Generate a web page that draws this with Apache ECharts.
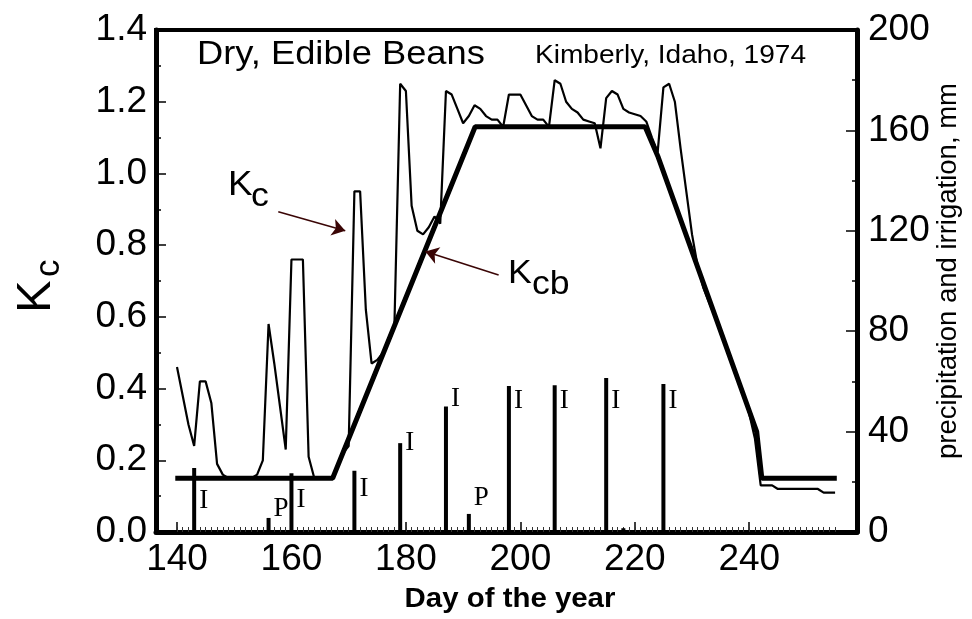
<!DOCTYPE html>
<html>
<head>
<meta charset="utf-8">
<script src="https://cdn.jsdelivr.net/npm/echarts@6/dist/echarts.min.js"></script>
<style>
  html, body { margin: 0; padding: 0; background: #fff; }
  #chart { width: 972px; height: 619px; }
</style>
</head>
<body>
<div id="chart"></div>
<script>
// Daily crop coefficient Kc, starting at day 140
const kcFirstDay = 140;
const kcDaily = [
  0.46, 0.38, 0.30, 0.24, 0.42, 0.42, 0.36, 0.19, 0.16, 0.15,   // 140-149
  0.15, 0.15, 0.15, 0.15, 0.16, 0.20, 0.58, 0.47, 0.35, 0.23,   // 150-159
  0.76, 0.76, 0.76, 0.21, 0.15, 0.15, 0.15, 0.15, 0.18, 0.22,   // 160-169
  0.24, 0.95, 0.95, 0.62, 0.47, 0.48, 0.50, 0.54, 0.58, 1.25,   // 170-179
  1.23, 0.91, 0.84, 0.83, 0.85, 0.88, 0.86, 1.23, 1.22, 1.18,   // 180-189
  1.14, 1.16, 1.19, 1.18, 1.16, 1.15, 1.15, 1.13, 1.22, 1.22,   // 190-199
  1.22, 1.19, 1.16, 1.15, 1.15, 1.13, 1.26, 1.25, 1.20, 1.18,   // 200-209
  1.17, 1.15, 1.145, 1.14, 1.07, 1.21, 1.23, 1.22, 1.18, 1.17,  // 210-219
  1.165, 1.16, 1.145, 1.10, 1.06, 1.24, 1.25, 1.20, 1.07, 0.95, // 220-229
  0.83, 0.74, 0.68, 0.64, 0.60, 0.555, 0.51, 0.47, 0.425, 0.38, // 230-239
  0.33, 0.26, 0.13, 0.13, 0.13, 0.12, 0.12, 0.12, 0.12, 0.12,   // 240-249
  0.12, 0.12, 0.12, 0.11, 0.11, 0.11                            // 250-255
];

// Basal crop coefficient Kcb (piecewise linear)
const kcbDays   = [139.7, 167.2, 192.1, 221.8, 224.1, 241.3, 242.2, 255.3];
const kcbValues = [0.15,  0.15,  1.13,  1.13,  1.045, 0.28,  0.15,  0.15];

// Precipitation (P) and irrigation (I) events, mm
const waterDays = [143, 156, 160, 171, 179, 187, 191, 198, 206, 215, 225, 218];
const waterMm   = [25.5, 5.6, 23.4, 24.4, 35.4, 50, 7.2, 58.2, 58.5, 61.4, 59, 1.5];
const waterTags = ['I', 'P', 'I', 'I', 'I', 'I', 'P', 'I', 'I', 'I', 'I', ''];

// Axis labels
const dayLabels = [140, 160, 180, 200, 220, 240];

const SANS = '"Liberation Sans", Arial, Helvetica, sans-serif';
const SERIF = '"Liberation Serif", "Times New Roman", serif';
const X_MIN = 136.33, X_MAX = 258.83;

const minorDays = [];
for (let d = 140; d <= 255; d++) minorDays.push(d);

// label placement for the I / P tags, relative to each bar's top-left
const tagOffsets = [[7, 33], [7, -9], [7, 27], [7, 18], [7, 0], [7, -8], [7, -16], [7, 15], [7, 16], [7, 23], [7, 17], [7, 0]];

const kcData = kcDaily.map((v, i) => [kcFirstDay + i, v]);
const kcbData = kcbDays.map((d, i) => [d, kcbValues[i]]);
const waterData = waterDays.map((d, i) => ({
  value: [d, waterMm[i]],
  label: { show: waterTags[i] !== '', formatter: waterTags[i], position: tagOffsets[i] }
}));

const chart = echarts.init(document.getElementById('chart'), null, { renderer: 'canvas' });

const arrowColor = '#3a0505';

chart.setOption({
  animation: false,
  backgroundColor: '#fff',
  grid: {
    left: 156, right: 115, top: 30, bottom: 87,
    show: true, borderColor: '#000', borderWidth: 4, backgroundColor: 'transparent'
  },
  xAxis: [
    {
      type: 'value', min: X_MIN, max: X_MAX, position: 'bottom',
      axisLine: { show: true, lineStyle: { color: '#000', width: 5 } },
      axisTick: { show: true, inside: true, length: 10, customValues: dayLabels, lineStyle: { color: '#000', width: 1.5 } },
      axisLabel: { customValues: dayLabels, fontSize: 37, fontFamily: SANS, color: '#000', margin: 9 },
      splitLine: { show: false }
    },
    {
      type: 'value', min: X_MIN, max: X_MAX, position: 'bottom',
      axisLine: { show: false },
      axisTick: { show: true, inside: true, length: 5, customValues: minorDays, lineStyle: { color: '#333', width: 1 } },
      axisLabel: { show: false },
      splitLine: { show: false }
    }
  ],
  yAxis: [
    {
      type: 'value', min: 0, max: 1.4, interval: 0.2, position: 'left',
      axisLine: { show: true, lineStyle: { color: '#000', width: 5 } },
      axisTick: { show: true, inside: true, length: 10, lineStyle: { color: '#000', width: 1.5 } },
      minorTick: { show: true, splitNumber: 2, length: 5, lineStyle: { color: '#000', width: 1.5 } },
      axisLabel: { formatter: v => v.toFixed(1), fontSize: 37, fontFamily: SANS, color: '#000', margin: 9 },
      splitLine: { show: false }, minorSplitLine: { show: false }
    },
    {
      type: 'value', min: 0, max: 200, interval: 40, position: 'right',
      axisLine: { show: true, lineStyle: { color: '#000', width: 5 } },
      axisTick: { show: true, inside: true, length: 11, lineStyle: { color: '#000', width: 1.5 } },
      minorTick: { show: true, splitNumber: 2, length: 5, lineStyle: { color: '#000', width: 1.5 } },
      axisLabel: { fontSize: 37, fontFamily: SANS, color: '#000', margin: 11 },
      splitLine: { show: false }, minorSplitLine: { show: false }
    }
  ],
  series: [
    {
      name: 'Kc', type: 'line', xAxisIndex: 0, yAxisIndex: 0,
      data: kcData, showSymbol: false, symbol: 'none',
      lineStyle: { color: '#000', width: 2.2 },
      z: 3,
      markLine: {
        silent: true, symbol: ['none', 'arrow'], symbolSize: 13,
        lineStyle: { color: arrowColor, width: 1.6, type: 'solid' },
        label: { show: false },
        data: [
          [{ coord: [157.7, 0.893] }, { coord: [169.4, 0.84] }],
          [{ coord: [196.2, 0.717] }, { coord: [183.4, 0.782] }]
        ]
      }
    },
    {
      name: 'Kcb', type: 'line', xAxisIndex: 0, yAxisIndex: 0,
      data: kcbData, showSymbol: false, symbol: 'none',
      lineStyle: { color: '#000', width: 5 },
      z: 4
    },
    {
      name: 'P & I', type: 'bar', xAxisIndex: 0, yAxisIndex: 1,
      data: waterData, barWidth: 4,
      itemStyle: { color: '#000' },
      label: { fontFamily: SERIF, fontSize: 27, color: '#000', align: 'left', verticalAlign: 'middle' },
      z: 5
    }
  ],
  graphic: [
    { type: 'text', x: 197, y: 55, scaleX: 1.1, style: { text: 'Dry, Edible Beans', font: '33px ' + SANS, fill: '#000', verticalAlign: 'middle' } },
    { type: 'text', x: 535, y: 56, scaleX: 1.08, style: { text: 'Kimberly, Idaho, 1974', font: '26px ' + SANS, fill: '#000', verticalAlign: 'middle' } },
    // Kc annotation
    { type: 'text', x: 228, y: 185, scaleX: 1.05, style: { text: 'K', font: '35px ' + SANS, fill: '#000', verticalAlign: 'middle' } },
    { type: 'text', x: 251, y: 197, scaleX: 1.05, style: { text: 'c', font: '34px ' + SANS, fill: '#000', verticalAlign: 'middle' } },
    // Kcb annotation
    { type: 'text', x: 508, y: 274, scaleX: 1.08, style: { text: 'K', font: '33px ' + SANS, fill: '#000', verticalAlign: 'middle' } },
    { type: 'text', x: 532, y: 285, scaleX: 1.08, style: { text: 'cb', font: '33px ' + SANS, fill: '#000', verticalAlign: 'middle' } },
    // left axis title
    {
      type: 'group', x: 36, y: 294, rotation: Math.PI / 2,
      children: [
        { type: 'text', x: -19, y: 0, style: { text: 'K', font: '49px ' + SANS, fill: '#000', verticalAlign: 'middle' } },
        { type: 'text', x: 17, y: 13, style: { text: 'c', font: '35px ' + SANS, fill: '#000', verticalAlign: 'middle' } }
      ]
    },
    // right axis title
    {
      type: 'text', x: 948, y: 271, rotation: Math.PI / 2,
      style: { text: 'precipitation and irrigation, mm', font: '27.5px ' + SANS, fill: '#000', align: 'center', verticalAlign: 'middle' }
    },
    // x axis title
    { type: 'text', x: 510, y: 599, scaleX: 1.05, style: { text: 'Day of the year', font: 'bold 28px ' + SANS, fill: '#000', align: 'center', verticalAlign: 'middle' } }
  ]
});
</script>
</body>
</html>
